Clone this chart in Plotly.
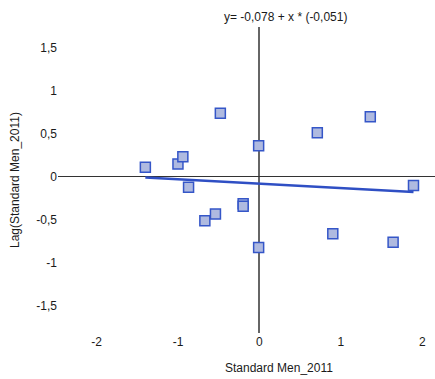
import plotly.graph_objects as go

x_vals = [-1.40, -1.00, -0.94, -0.48, -0.01, 0.71, 1.36, 1.89, -0.87,
          -0.67, -0.54, -0.20, -0.20, -0.01, 0.90, 1.64]
y_vals = [0.113, 0.151, 0.236, 0.74, 0.364, 0.515, 0.70, -0.10, -0.12,
          -0.51, -0.43, -0.31, -0.34, -0.82, -0.66, -0.76]
intercept = -0.078
slope = -0.051
x_ticks = [-2, -1, 0, 1, 2]
x_tick_labels = ["-2", "-1", "0", "1", "2"]
y_ticks = [-1.5, -1, -0.5, 0, 0.5, 1, 1.5]
y_tick_labels = ["-1,5", "-1", "-0,5", "0", "0,5", "1", "1,5"]

xmin, xmax = min(x_vals), max(x_vals)
line_x = [xmin, xmax]
line_y = [intercept + slope * v for v in line_x]

fig = go.Figure()
fig.add_trace(go.Scatter(x=line_x, y=line_y, mode="lines",
                         line=dict(color="#2F4FC4", width=2.4), hoverinfo="skip"))
fig.add_trace(go.Scatter(x=x_vals, y=y_vals, mode="markers",
                         marker=dict(symbol="square", size=10, color="#AFBAE0",
                                     line=dict(color="#3556C8", width=1.5))))

font = dict(family="Liberation Sans, Arial, sans-serif", size=12, color="#1a1a1a")
W, H = 435, 379
L, R, T, B = 58, 0, 27, 46
pw, ph = W - L - R, H - T - B

def px(xp):
    return (xp - L) / pw

def py(yp):
    return (H - B - yp) / ph

anns = [
    dict(text="y= -0,078 + x * (-0,051)", x=px(285), y=py(17)),
    dict(text="Standard Men_2011", x=px(279), y=py(368)),
    dict(text="Lag(Standard Men_2011)", x=px(15), y=py(180), textangle=-90),
]
for a in anns:
    a.update(xref="paper", yref="paper", showarrow=False, xanchor="center",
             yanchor="middle", font=font)

fig.update_layout(
    width=W, height=H,
    margin=dict(l=L, r=R, t=T, b=B),
    paper_bgcolor="white", plot_bgcolor="white",
    showlegend=False,
    font=font,
    xaxis=dict(range=[-2.472, 2.154], tickvals=x_ticks, ticktext=x_tick_labels,
               showgrid=False, showline=False, zeroline=True,
               zerolinecolor="#666", zerolinewidth=2, ticks="",
               tickfont=font),
    yaxis=dict(range=[-1.814, 1.744], tickvals=y_ticks, ticktext=y_tick_labels,
               showgrid=False, showline=False, zeroline=True,
               zerolinecolor="#333", zerolinewidth=1, ticks="",
               tickfont=font),
    annotations=anns,
)
fig.write_html("out.html", config={"displayModeBar": False},
               post_script="document.body.style.margin='0px';")
